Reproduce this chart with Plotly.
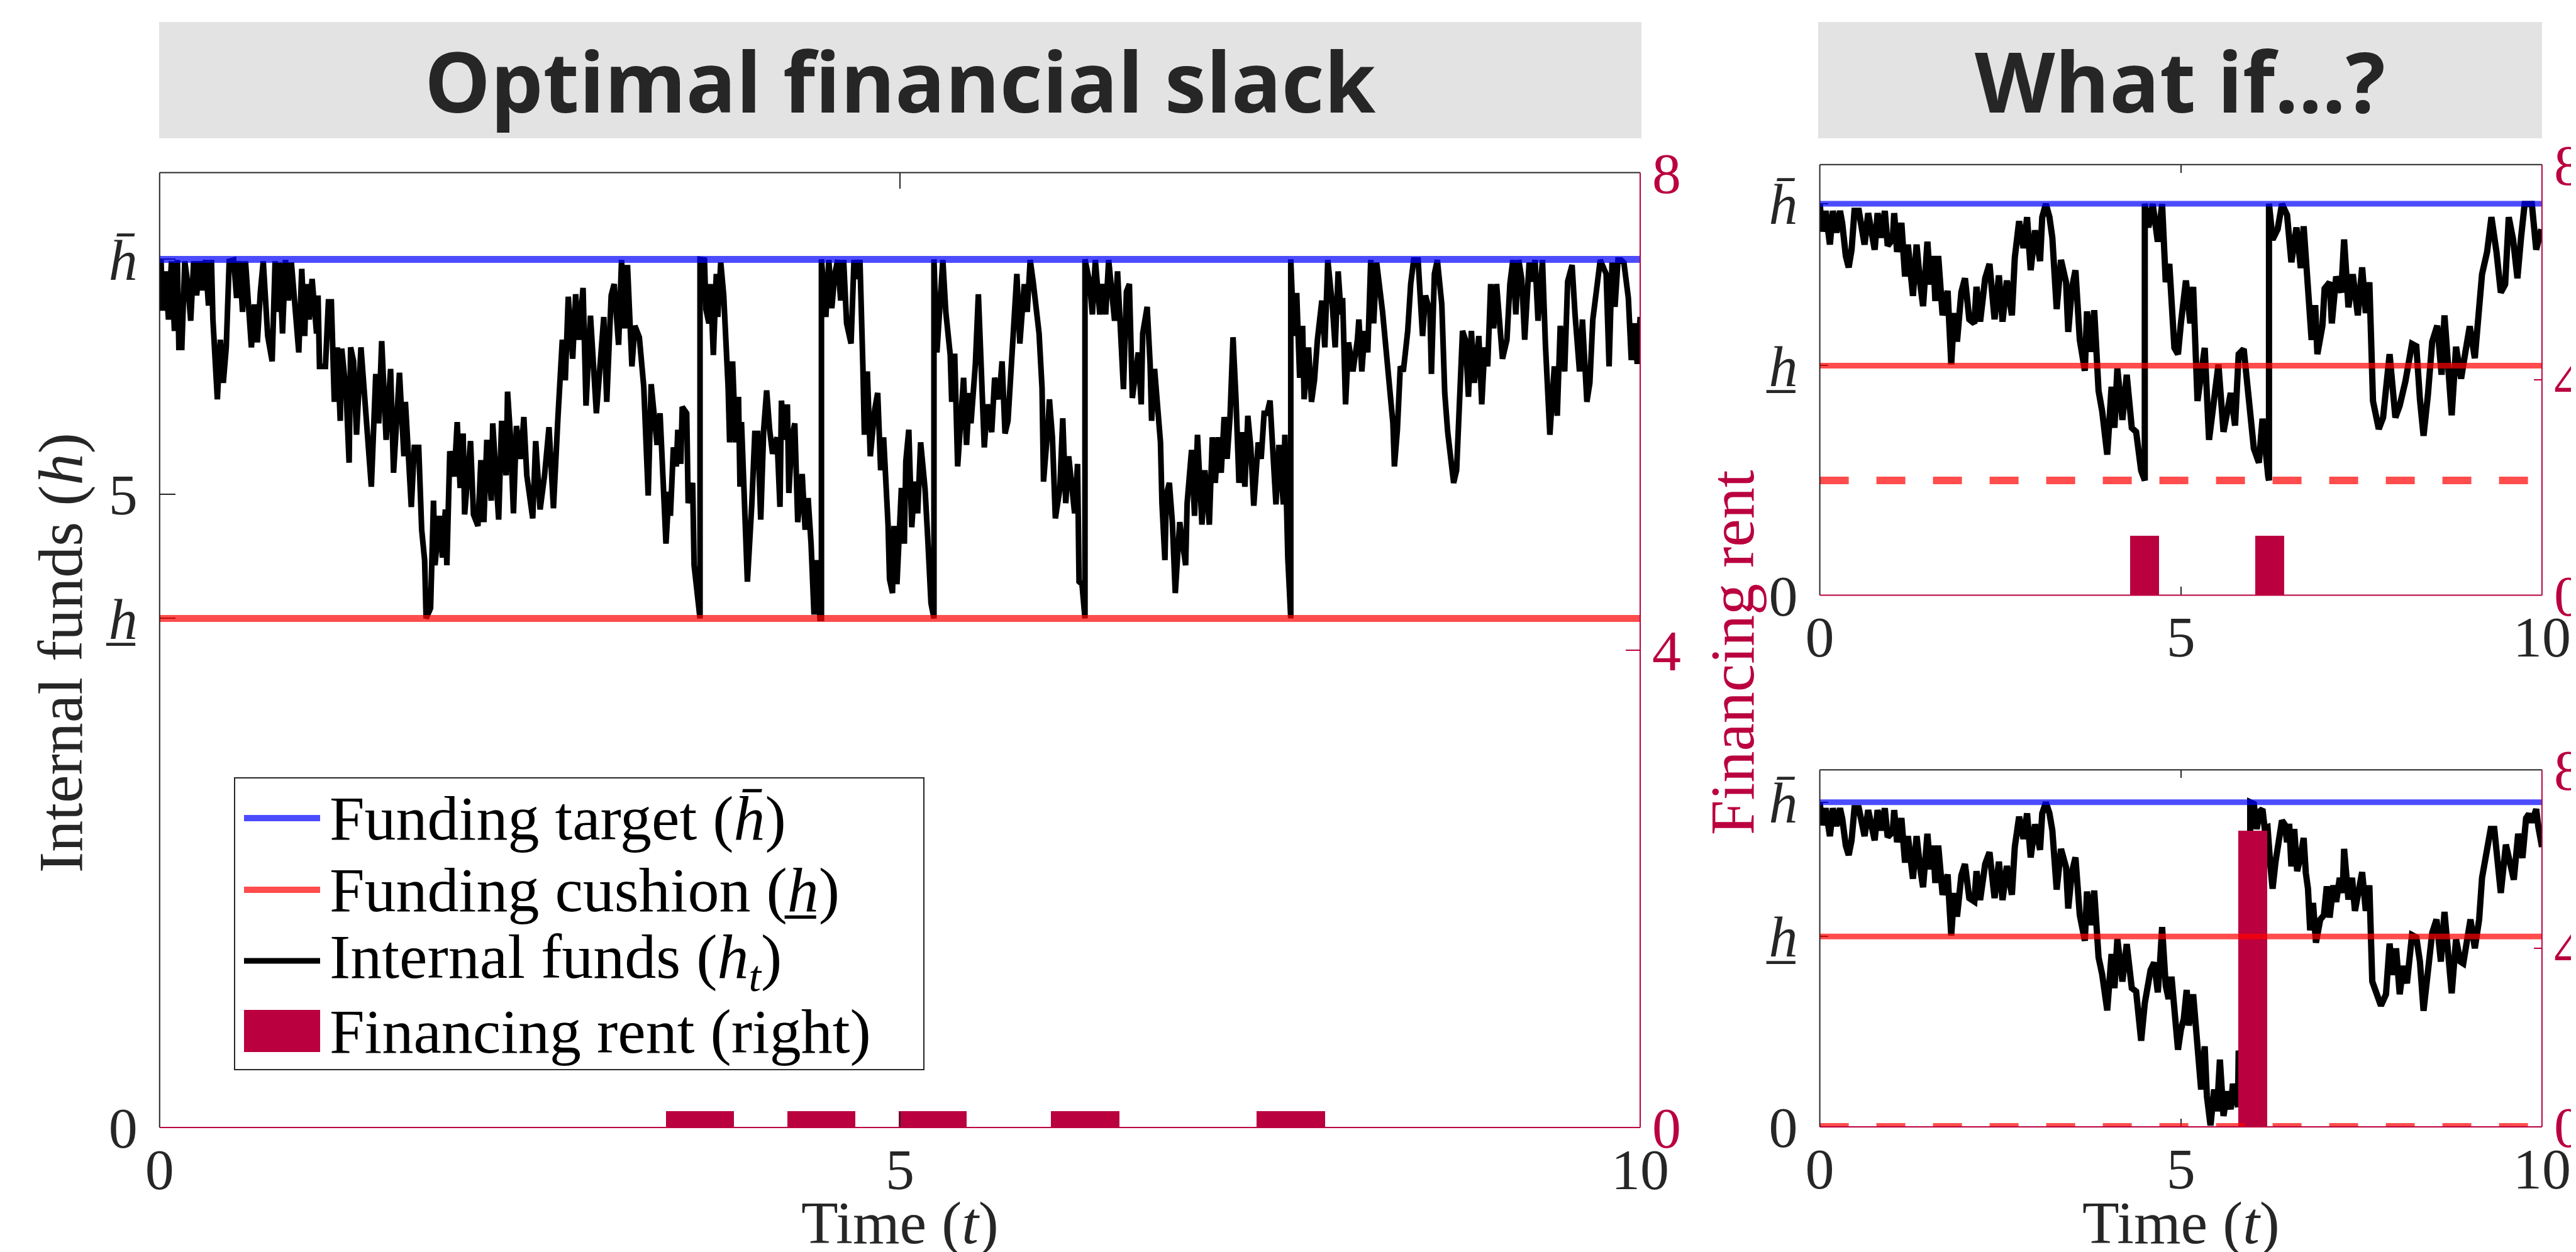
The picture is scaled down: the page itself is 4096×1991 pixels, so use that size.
import plotly.graph_objects as go

# ---------------- data ----------------
HBAR = 6.855          # funding target
HLOW = 4.02           # funding cushion
HLOW_TOP_WHATIF = 2.01  # lower cushion, top "what if" panel
HLOW_BOT_WHATIF = 0.0   # lower cushion, bottom "what if" panel
Y_TOP = 7.54          # left-axis upper limit
RENT_TOP = 8          # right-axis upper limit

x_ticks = [0, 5, 10]
rent_ticks = [0, 4, 8]

# main panel: internal funds path, split at refinancing jumps
main_a_t = [0.00, 0.01, 0.02, 0.04, 0.06, 0.08, 0.10, 0.12, 0.13, 0.15,
            0.17, 0.19, 0.21, 0.23, 0.25, 0.27, 0.29, 0.31, 0.33, 0.35,
            0.36, 0.38, 0.39, 0.41, 0.43, 0.45, 0.47, 0.50, 0.52, 0.54,
            0.56, 0.58, 0.62, 0.64, 0.66, 0.68, 0.70, 0.73, 0.76, 0.78,
            0.80, 0.81, 0.83, 0.85, 0.87, 0.89, 0.91, 0.94, 0.96, 0.98,
            0.99, 1.01, 1.03, 1.06, 1.07, 1.08, 1.12, 1.14, 1.16, 1.18,
            1.20, 1.22, 1.23, 1.26, 1.28, 1.29, 1.31, 1.33, 1.36, 1.39,
            1.43, 1.46, 1.48, 1.50, 1.51, 1.53, 1.56, 1.58, 1.62, 1.65,
            1.66, 1.70, 1.72, 1.75, 1.77, 1.79, 1.80, 1.83, 1.85, 1.86,
            1.89, 1.91, 1.93, 1.94, 1.96, 1.99, 2.01, 2.03, 2.05, 2.06,
            2.10, 2.12, 2.15, 2.17, 2.19, 2.21, 2.24, 2.25, 2.29, 2.31,
            2.34, 2.35, 2.37, 2.39, 2.41, 2.44, 2.46, 2.48, 2.52, 2.54,
            2.57, 2.60, 2.63, 2.66, 2.69, 2.72, 2.74, 2.76, 2.79, 2.81,
            2.83, 2.86, 2.88, 2.91, 2.95, 2.97, 3.00, 3.02, 3.05, 3.07,
            3.10, 3.12, 3.14, 3.16, 3.19, 3.21, 3.24, 3.27, 3.30, 3.32,
            3.36, 3.38, 3.40, 3.42, 3.44, 3.45, 3.47, 3.49, 3.50, 3.52,
            3.53, 3.56, 3.57, 3.60, 3.61, 3.63, 3.65]
main_a_h = [6.83, 6.83, 6.45, 6.76, 6.38, 6.84, 6.29, 6.85, 6.16, 6.16,
            6.84, 6.66, 6.37, 6.84, 6.57, 6.84, 6.61, 6.85, 6.49, 6.85,
            6.38, 5.97, 5.75, 6.22, 5.88, 6.16, 6.84, 6.85, 6.55, 6.84,
            6.44, 6.84, 6.16, 6.50, 6.20, 6.59, 6.84, 6.25, 6.05, 6.84,
            6.44, 6.83, 6.27, 6.85, 6.53, 6.83, 6.53, 6.12, 6.78, 6.25,
            6.66, 6.38, 6.70, 6.27, 6.57, 6.01, 6.01, 6.52, 6.52, 5.73,
            6.16, 5.58, 6.15, 5.80, 5.25, 6.16, 6.05, 5.47, 6.16, 5.69,
            5.06, 5.95, 5.56, 6.21, 5.99, 5.43, 5.99, 5.17, 5.96, 5.30,
            5.73, 4.90, 5.37, 5.37, 4.72, 4.48, 4.02, 4.10, 4.95, 4.44,
            4.83, 4.50, 4.88, 4.44, 5.34, 5.14, 5.57, 5.05, 5.48, 4.84,
            5.42, 4.84, 4.75, 5.27, 4.78, 5.43, 4.95, 5.56, 4.80, 5.58,
            5.15, 5.81, 5.45, 4.85, 5.54, 5.28, 5.61, 5.15, 4.81, 5.42,
            4.88, 5.15, 5.53, 4.89, 5.60, 6.22, 5.90, 6.56, 6.07, 6.58,
            6.22, 6.63, 5.70, 6.41, 5.64, 5.95, 6.40, 5.73, 6.57, 6.66,
            6.18, 6.85, 6.31, 6.81, 6.01, 6.33, 6.24, 5.85, 4.99, 5.87,
            5.39, 5.64, 5.19, 4.61, 5.02, 4.83, 5.37, 5.22, 5.51, 5.24,
            5.69, 5.64, 4.93, 5.09, 4.44, 4.27, 4.02]

main_b_t = [3.65, 3.68, 3.69, 3.71, 3.72, 3.74, 3.76, 3.77, 3.79, 3.81,
            3.84, 3.85, 3.87, 3.89, 3.91, 3.92, 3.93, 3.95, 3.97, 4.00,
            4.02, 4.04, 4.06, 4.08, 4.10, 4.12, 4.14, 4.17, 4.19, 4.20,
            4.22, 4.24, 4.25, 4.27, 4.29, 4.31, 4.34, 4.36, 4.38, 4.40,
            4.42, 4.44, 4.46, 4.47]
main_b_h = [6.855, 6.85, 6.46, 6.35, 6.66, 6.10, 6.74, 6.40, 6.83, 6.57,
            5.84, 5.41, 6.05, 5.41, 5.77, 5.06, 5.57, 4.89, 4.31, 4.93,
            5.48, 5.48, 4.80, 5.51, 5.82, 5.51, 5.32, 5.45, 4.90, 5.74,
            5.43, 5.71, 5.01, 5.45, 5.56, 4.78, 5.16, 4.72, 4.97, 4.61,
            4.05, 4.48, 4.02, 4.02]

main_c_t = [4.47, 4.50, 4.52, 4.54, 4.56, 4.58, 4.60, 4.62, 4.64, 4.67,
            4.69, 4.71, 4.73, 4.75, 4.76, 4.78, 4.80, 4.83, 4.85, 4.87,
            4.89, 4.92, 4.93, 4.95, 4.96, 4.98, 5.01, 5.03, 5.04, 5.06,
            5.08, 5.10, 5.12, 5.14, 5.17, 5.19, 5.21, 5.23]
main_c_h = [6.855, 6.40, 6.85, 6.47, 6.74, 6.85, 6.53, 6.85, 6.35, 6.19,
            6.85, 6.70, 6.85, 6.01, 5.47, 5.97, 5.30, 5.67, 5.80, 5.19,
            5.45, 4.76, 4.33, 4.22, 4.75, 4.29, 5.05, 4.61, 5.26, 5.51,
            4.74, 5.10, 4.85, 5.41, 5.04, 4.61, 4.14, 4.02]

main_d_t = [5.23, 5.25, 5.27, 5.29, 5.31, 5.34, 5.35, 5.37, 5.39, 5.41,
            5.43, 5.45, 5.47, 5.48, 5.51, 5.53, 5.55, 5.57, 5.59, 5.62,
            5.64, 5.67, 5.69, 5.71, 5.73, 5.75, 5.77, 5.79, 5.81, 5.84,
            5.86, 5.88, 5.90, 5.92, 5.94, 5.96, 5.97, 6.00, 6.01, 6.03,
            6.05, 6.08, 6.10, 6.12, 6.14, 6.18, 6.20, 6.21, 6.23, 6.25]
main_d_h = [6.855, 6.12, 6.44, 6.85, 6.44, 6.10, 5.73, 6.11, 5.22, 5.67,
            5.92, 5.39, 5.80, 5.56, 6.03, 6.58, 5.88, 5.37, 5.71, 5.49,
            5.92, 5.75, 6.05, 5.48, 5.58, 5.95, 6.48, 6.74, 6.19, 6.66,
            6.44, 6.85, 6.68, 6.48, 6.27, 5.84, 5.10, 5.54, 5.75, 5.45,
            4.81, 5.04, 5.60, 4.93, 5.30, 4.85, 5.24, 4.31, 4.29, 4.02]

main_e_t = [6.25, 6.28, 6.30, 6.32, 6.35, 6.37, 6.39, 6.41, 6.43, 6.45,
            6.47, 6.49, 6.51, 6.53, 6.55, 6.57, 6.59, 6.61, 6.63, 6.64,
            6.67, 6.69, 6.70, 6.72, 6.76, 6.77, 6.79, 6.80, 6.82, 6.84,
            6.86, 6.88, 6.89, 6.93, 6.94, 6.97, 6.99, 7.01, 7.04, 7.06,
            7.09, 7.11, 7.13, 7.15, 7.17, 7.19, 7.21, 7.23, 7.25, 7.27,
            7.29, 7.31, 7.33, 7.35, 7.37, 7.39, 7.42, 7.44, 7.46, 7.48,
            7.50, 7.52, 7.54, 7.56, 7.59, 7.60, 7.62, 7.64]
main_e_h = [6.855, 6.68, 6.42, 6.85, 6.42, 6.66, 6.42, 6.85, 6.55, 6.37,
            6.76, 6.16, 5.83, 6.60, 6.66, 5.76, 5.95, 6.12, 5.71, 6.27,
            6.48, 6.03, 5.58, 5.99, 5.41, 4.93, 4.48, 5.00, 5.09, 4.78,
            4.22, 4.72, 4.78, 4.44, 4.93, 5.35, 4.83, 5.47, 4.76, 5.19,
            4.76, 5.45, 5.09, 5.45, 5.17, 5.61, 5.28, 5.62, 6.24, 5.75,
            5.09, 5.49, 5.06, 5.62, 5.37, 4.91, 5.41, 5.28, 5.64, 5.64,
            5.74, 5.32, 4.92, 5.39, 4.92, 5.47, 4.50, 4.02]

main_f_t = [7.64, 7.66, 7.68, 7.70, 7.72, 7.73, 7.76, 7.78, 7.80, 7.82,
            7.85, 7.87, 7.89, 7.92, 7.94, 7.96, 7.98, 7.99, 8.01, 8.03,
            8.06, 8.09, 8.10, 8.12, 8.14, 8.16, 8.18, 8.20, 8.22, 8.26,
            8.28, 8.30, 8.33, 8.34, 8.36, 8.38, 8.40, 8.43, 8.45, 8.47,
            8.50, 8.53, 8.55, 8.58, 8.59, 8.61, 8.63, 8.66, 8.68, 8.70,
            8.72, 8.74, 8.76, 8.78, 8.80, 8.82, 8.84, 8.86, 8.88, 8.91,
            8.93, 8.95, 8.97, 8.99, 9.01, 9.03, 9.05, 9.07, 9.10, 9.12,
            9.14, 9.16, 9.18, 9.20, 9.22, 9.25, 9.27, 9.29, 9.31, 9.34,
            9.36, 9.39, 9.42, 9.44, 9.46, 9.49, 9.51, 9.54, 9.56, 9.59,
            9.61, 9.64, 9.66, 9.68, 9.71, 9.73, 9.77, 9.79, 9.81, 9.83,
            9.85, 9.87, 9.89, 9.92, 9.94, 9.96, 9.98, 10.00]
main_f_h = [6.855, 6.25, 6.59, 5.92, 6.33, 5.75, 6.16, 5.73, 5.90, 6.22,
            6.53, 6.16, 6.85, 6.50, 6.16, 6.76, 6.42, 6.55, 5.71, 6.20,
            5.97, 6.22, 6.38, 5.97, 6.29, 6.12, 6.85, 6.35, 6.83, 6.44,
            6.18, 5.88, 5.56, 5.22, 5.51, 6.01, 5.97, 6.29, 6.66, 6.85,
            6.85, 6.25, 6.57, 6.44, 5.95, 6.74, 6.85, 6.50, 5.80, 5.49,
            5.26, 5.09, 5.19, 5.87, 6.29, 6.22, 5.77, 6.29, 5.88, 6.25,
            5.71, 6.16, 6.01, 6.66, 6.31, 6.66, 6.40, 6.07, 6.22, 6.66,
            6.85, 6.42, 6.85, 6.70, 6.22, 6.83, 6.68, 6.85, 6.37, 6.85,
            6.18, 5.47, 6.01, 5.62, 6.33, 5.97, 6.68, 6.81, 6.42, 5.97,
            6.38, 5.73, 5.88, 6.38, 6.66, 6.85, 6.74, 6.01, 6.83, 6.48,
            6.85, 6.85, 6.83, 6.55, 6.06, 6.35, 6.03, 6.40]

main_rent_t = [3.65, 4.47, 5.22, 6.25, 7.64]
main_rent_v = [0.14, 0.14, 0.14, 0.14, 0.14]
MAIN_BAR_W = 0.46

# "What if" panels: common path until t = 4.38
whatif_common_t = [0.00, 0.03, 0.08, 0.14, 0.18, 0.23, 0.28, 0.31, 0.36, 0.40,
                   0.44, 0.48, 0.54, 0.57, 0.62, 0.67, 0.72, 0.76, 0.80, 0.85,
                   0.90, 0.94, 1.01, 1.03, 1.07, 1.13, 1.18, 1.22, 1.29, 1.34,
                   1.39, 1.43, 1.49, 1.53, 1.57, 1.60, 1.64, 1.70, 1.77, 1.82,
                   1.86, 1.90, 1.96, 2.01, 2.07, 2.14, 2.17, 2.22, 2.29, 2.35,
                   2.42, 2.48, 2.53, 2.59, 2.66, 2.70, 2.76, 2.82, 2.87, 2.92,
                   2.98, 3.05, 3.08, 3.13, 3.18, 3.22, 3.28, 3.34, 3.41, 3.44,
                   3.49, 3.54, 3.60, 3.67, 3.70, 3.75, 3.80, 3.86, 3.91, 3.98,
                   4.04, 4.08, 4.12, 4.19, 4.25, 4.32, 4.38]
whatif_common_h = [6.85, 6.37, 6.73, 6.14, 6.73, 6.35, 6.73, 6.52, 5.94, 5.74,
                   6.05, 6.73, 6.73, 6.44, 6.14, 6.69, 6.23, 6.05, 6.69, 6.26,
                   6.73, 6.12, 6.23, 6.69, 6.01, 6.52, 5.58, 6.14, 5.24, 6.14,
                   5.46, 5.06, 6.19, 5.44, 5.94, 5.15, 5.94, 4.90, 5.33, 4.04,
                   4.94, 4.44, 5.31, 5.55, 4.83, 4.76, 5.40, 4.79, 5.55, 5.80,
                   4.83, 5.60, 4.79, 5.51, 4.90, 5.91, 6.55, 6.08, 6.62, 5.69,
                   6.39, 5.85, 6.62, 6.85, 6.62, 6.26, 5.01, 5.87, 5.48, 4.61,
                   5.37, 5.69, 4.47, 3.93, 4.97, 4.26, 4.99, 3.58, 3.22, 2.46,
                   3.65, 2.93, 3.97, 3.07, 3.86, 2.93, 2.86]

# top "what if": cushion lowered to 2.01, refinancing at it
whatif_top_t = [4.45, 4.50, 4.50, 4.55, 4.61, 4.68, 4.74, 4.79, 4.84, 4.91,
                4.96, 5.00, 5.07, 5.13, 5.17, 5.23, 5.33, 5.39, 5.46, 5.52,
                5.59, 5.69, 5.75, 5.80, 5.87, 5.95, 6.01, 6.08, 6.13, 6.21,
                6.22, 6.22, 6.27, 6.34, 6.40, 6.47, 6.53, 6.60, 6.66, 6.70,
                6.76, 6.81, 6.86, 6.89, 6.96, 6.99, 7.06, 7.09, 7.15, 7.22,
                7.26, 7.32, 7.38, 7.45, 7.51, 7.56, 7.61, 7.66, 7.74, 7.80,
                7.89, 7.97, 8.03, 8.11, 8.20, 8.26, 8.31, 8.36, 8.42, 8.48,
                8.55, 8.61, 8.65, 8.72, 8.75, 8.81, 8.88, 8.94, 9.00, 9.07,
                9.13, 9.17, 9.24, 9.30, 9.37, 9.43, 9.49, 9.54, 9.60, 9.66,
                9.71, 9.76, 9.86, 9.92, 9.99]
whatif_top_h = [2.18, 2.01, 6.855, 6.44, 6.85, 6.19, 6.85, 5.48, 5.80, 4.33,
                4.22, 4.76, 5.51, 4.76, 5.40, 3.40, 4.33, 2.72, 3.40, 4.04,
                2.86, 3.54, 2.97, 4.22, 4.31, 3.32, 2.57, 2.32, 3.09, 2.07,
                2.01, 6.855, 6.23, 6.41, 6.85, 6.66, 5.83, 6.44, 5.73, 6.46,
                5.22, 4.47, 5.08, 4.22, 4.72, 5.37, 5.48, 4.76, 5.58, 5.30,
                6.23, 5.04, 5.62, 4.90, 5.74, 4.94, 5.48, 3.40, 2.91, 3.11,
                4.22, 3.11, 3.32, 3.75, 4.40, 4.36, 3.43, 2.79, 3.50, 4.44,
                4.72, 3.86, 4.90, 3.50, 3.15, 4.35, 3.79, 4.26, 4.71, 4.15,
                5.06, 5.62, 6.01, 6.62, 6.01, 5.30, 5.44, 6.62, 6.23, 5.55,
                6.26, 6.85, 6.85, 6.05, 6.41]
whatif_top_rent_t = [4.49, 6.23]
whatif_top_rent_v = [1.11, 1.11]

# bottom "what if": cushion lowered to 0, single large refinancing
whatif_bot_t = [4.42, 4.45, 4.50, 4.55, 4.58, 4.63, 4.68, 4.71, 4.74, 4.79,
                4.83, 4.87, 4.91, 4.96, 5.00, 5.04, 5.08, 5.11, 5.17, 5.23,
                5.28, 5.33, 5.36, 5.41, 5.46, 5.50, 5.54, 5.59, 5.64, 5.69,
                5.72, 5.79, 5.80, 5.96, 5.96, 6.01, 6.05, 6.09, 6.13, 6.16,
                6.20, 6.24, 6.27, 6.31, 6.34, 6.37, 6.40, 6.44, 6.47, 6.50,
                6.53, 6.57, 6.61, 6.66, 6.70, 6.73, 6.76, 6.79, 6.83, 6.87,
                6.93, 6.98, 7.02, 7.06, 7.11, 7.15, 7.20, 7.24, 7.26, 7.32,
                7.37, 7.41, 7.46, 7.51, 7.56, 7.61, 7.65, 7.71, 7.77, 7.84,
                7.89, 7.93, 7.98, 8.03, 8.08, 8.13, 8.20, 8.26, 8.31, 8.36,
                8.41, 8.48, 8.54, 8.60, 8.65, 8.70, 8.75, 8.81, 8.87, 8.91,
                8.96, 9.01, 9.07, 9.13, 9.17, 9.24, 9.29, 9.34, 9.39, 9.43,
                9.50, 9.55, 9.61, 9.67, 9.73, 9.78, 9.82, 9.86, 9.92, 9.95,
                10.00]
whatif_bot_h = [2.24, 1.82, 2.61, 2.98, 3.31, 3.47, 2.84, 3.45, 4.22, 2.98,
                2.70, 3.17, 2.56, 1.63, 2.05, 2.28, 2.89, 2.14, 2.80, 1.82,
                0.79, 1.70, 0.65, 0.03, 0.79, 0.33, 1.42, 0.23, 0.75, 0.37,
                0.91, 0.42, 1.61, 0.00, 6.855, 6.82, 6.29, 6.66, 6.71, 6.31,
                6.33, 5.50, 5.03, 5.59, 5.96, 6.19, 6.47, 6.38, 6.01, 6.40,
                5.50, 6.29, 5.40, 5.73, 6.10, 5.36, 5.03, 4.15, 4.73, 3.89,
                4.38, 4.47, 5.08, 4.42, 5.10, 4.75, 5.26, 4.94, 5.87, 4.80,
                5.26, 4.56, 5.08, 5.38, 4.56, 5.10, 3.07, 2.80, 2.56, 2.80,
                3.87, 3.21, 3.77, 2.80, 3.40, 3.03, 4.05, 4.00, 3.49, 2.45,
                3.21, 4.10, 4.38, 3.49, 4.54, 3.45, 2.82, 3.96, 3.49, 3.45,
                3.96, 4.38, 3.77, 4.38, 5.26, 5.78, 6.29, 6.29, 5.50, 4.94,
                5.96, 5.54, 5.22, 6.19, 5.68, 6.52, 6.61, 6.43, 6.71, 6.33,
                5.91]
whatif_bot_rent_t = [5.99]
whatif_bot_rent_v = [6.63]
WHATIF_BAR_W = 0.40

main_segments = [(main_a_t, main_a_h), (main_b_t, main_b_h), (main_c_t, main_c_h),
                 (main_d_t, main_d_h), (main_e_t, main_e_h), (main_f_t, main_f_h)]
for a, b in main_segments + [(whatif_common_t, whatif_common_h), (whatif_top_t, whatif_top_h),
                             (whatif_bot_t, whatif_bot_h)]:
    assert len(a) == len(b), (len(a), len(b))

# each segment after the first starts with the jump back to the target (same t)
main_t, main_h = [], []
for seg_t, seg_h in main_segments:
    main_t += seg_t
    main_h += seg_h

top_t = whatif_common_t + whatif_top_t
top_h = whatif_common_h + whatif_top_h
bot_t = whatif_common_t + whatif_bot_t
bot_h = whatif_common_h + whatif_bot_h

# ---------------- style ----------------
W, H = 4096, 1991
CRIMSON = "rgb(186,0,62)"
DARK = "#262626"
BLUE_L = "rgba(0,0,255,0.7)"
RED_L = "rgba(255,0,0,0.7)"
SERIF = "Liberation Serif"
FS = 92


def px(v):
    return v / W


def py(v):
    return 1 - v / H


MAIN_X = [px(245.8), px(2600.0)]
MAIN_Y = [py(1785.0), py(266.5)]
SIDE_X = [px(2885.6), px(4033.9)]
TOP_Y = [py(938.4), py(253.8)]
BOT_Y = [py(1784.0), py(1216.2)]

fig = go.Figure()

fig.add_trace(go.Scatter(x=main_t, y=main_h, mode="lines", line=dict(color="black", width=9),
                         xaxis="x", yaxis="y", hoverinfo="skip", showlegend=False))
fig.add_trace(go.Bar(x=main_rent_t, y=main_rent_v, width=MAIN_BAR_W, marker=dict(color=CRIMSON, line=dict(width=0)),
                     xaxis="x", yaxis="y2", hoverinfo="skip", showlegend=False))

fig.add_trace(go.Scatter(x=top_t, y=top_h, mode="lines", line=dict(color="black", width=10),
                         xaxis="x2", yaxis="y3", hoverinfo="skip", showlegend=False))
fig.add_trace(go.Bar(x=whatif_top_rent_t, y=whatif_top_rent_v, width=WHATIF_BAR_W,
                     marker=dict(color=CRIMSON, line=dict(width=0)),
                     xaxis="x2", yaxis="y4", hoverinfo="skip", showlegend=False))

fig.add_trace(go.Scatter(x=bot_t, y=bot_h, mode="lines", line=dict(color="black", width=10),
                         xaxis="x3", yaxis="y5", hoverinfo="skip", showlegend=False))
fig.add_trace(go.Bar(x=whatif_bot_rent_t, y=whatif_bot_rent_v, width=WHATIF_BAR_W,
                     marker=dict(color=CRIMSON, line=dict(width=0)),
                     xaxis="x3", yaxis="y6", hoverinfo="skip", showlegend=False))

tickfont = dict(family=SERIF, size=FS, color=DARK)
rentfont = dict(family=SERIF, size=FS, color=CRIMSON)
HB = "<i>h\u0304</i>"
HL = "<i>h\u0332</i>"


def xax(domain, anchor, tl):
    return dict(domain=domain, anchor=anchor, range=[0, 10], tickvals=x_ticks, ticks="inside",
                ticklen=tl, tickwidth=2, tickcolor=DARK, mirror="ticks", showline=False,
                showgrid=False, zeroline=False, tickfont=tickfont, ticklabelstandoff=5,
                automargin=False, fixedrange=True)


def yax(domain, anchor, tl, vals, texts):
    return dict(domain=domain, anchor=anchor, range=[0, Y_TOP], tickvals=vals, ticktext=texts,
                ticks="inside", ticklen=tl, tickwidth=2, tickcolor=DARK, showline=False, showgrid=False,
                zeroline=False, tickfont=tickfont, ticklabelstandoff=34, automargin=False, fixedrange=True)


def rax(over, anchor, tl):
    return dict(overlaying=over, anchor=anchor, side="right", range=[0, RENT_TOP], tickvals=rent_ticks,
                ticks="inside", ticklen=tl, tickwidth=2, tickcolor=CRIMSON, showline=False, showgrid=False,
                zeroline=False, tickfont=rentfont, ticklabelstandoff=18, automargin=False, fixedrange=True)


fig.update_layout(
    width=W, height=H, autosize=False, margin=dict(l=0, r=0, t=0, b=0, pad=0),
    paper_bgcolor="white", plot_bgcolor="white", showlegend=False, bargap=0,
    xaxis=xax(MAIN_X, "y", 25),
    yaxis=yax(MAIN_Y, "x", 25, [0, HLOW, 5, HBAR], ["0", HL, "5", HB]),
    yaxis2=rax("y", "x", 23),
    xaxis2=xax(SIDE_X, "y3", 13),
    yaxis3=yax(TOP_Y, "x2", 13, [0, HLOW, HBAR], ["0", HL, HB]),
    yaxis4=rax("y3", "x2", 13),
    xaxis3=xax(SIDE_X, "y5", 13),
    yaxis5=yax(BOT_Y, "x3", 13, [0, HLOW, HBAR], ["0", HL, HB]),
    yaxis6=rax("y5", "x3", 13),
)

shapes = []
# reference lines
for xr, yr, low2, lw in [("x", "y", None, 11), ("x2", "y3", HLOW_TOP_WHATIF, 9), ("x3", "y5", HLOW_BOT_WHATIF, 9)]:
    shapes.append(dict(type="line", xref=xr, yref=yr, x0=0, x1=10, y0=HBAR, y1=HBAR,
                       line=dict(color=BLUE_L, width=lw), layer="above"))
    shapes.append(dict(type="line", xref=xr, yref=yr, x0=0, x1=10, y0=HLOW, y1=HLOW,
                       line=dict(color=RED_L, width=lw), layer="above"))
    if low2 is not None:
        shapes.append(dict(type="line", xref=xr, yref=yr, x0=0, x1=10, y0=low2, y1=low2,
                           line=dict(color=RED_L, width=12, dash="46px,44px"), layer="above"))
# axes frames
for xr, yr in [("x", "y"), ("x2", "y3"), ("x3", "y5")]:
    xd, yd = xr + " domain", yr + " domain"
    shapes.append(dict(type="line", xref=xd, yref=yd, x0=0, x1=1, y0=1, y1=1, line=dict(color=DARK, width=2), layer="above"))
    shapes.append(dict(type="line", xref=xd, yref=yd, x0=0, x1=0, y0=0, y1=1, line=dict(color=DARK, width=2), layer="above"))
    shapes.append(dict(type="line", xref=xd, yref=yd, x0=0, x1=1, y0=0, y1=0, line=dict(color=CRIMSON, width=2), layer="above"))
    shapes.append(dict(type="line", xref=xd, yref=yd, x0=1, x1=1, y0=0, y1=1, line=dict(color=CRIMSON, width=2), layer="above"))
# title boxes
shapes.append(dict(type="rect", xref="paper", yref="paper", x0=px(245), x1=px(2602), y0=py(212), y1=py(27),
                   fillcolor="#e3e3e3", line=dict(width=0), layer="below"))
shapes.append(dict(type="rect", xref="paper", yref="paper", x0=px(2883), x1=px(4034), y0=py(212), y1=py(27),
                   fillcolor="#e3e3e3", line=dict(width=0), layer="below"))
# legend box and keys
shapes.append(dict(type="rect", xref="paper", yref="paper", x0=px(365), x1=px(1461), y0=py(1693), y1=py(1229),
                   fillcolor="white", line=dict(color=DARK, width=2), layer="above"))
LEG_ROWS = [1293, 1407, 1520, 1632]
shapes.append(dict(type="line", xref="paper", yref="paper", x0=px(380), x1=px(501), y0=py(LEG_ROWS[0]), y1=py(LEG_ROWS[0]),
                   line=dict(color=BLUE_L, width=10), layer="above"))
shapes.append(dict(type="line", xref="paper", yref="paper", x0=px(380), x1=px(501), y0=py(LEG_ROWS[1]), y1=py(LEG_ROWS[1]),
                   line=dict(color=RED_L, width=10), layer="above"))
shapes.append(dict(type="line", xref="paper", yref="paper", x0=px(380), x1=px(501), y0=py(LEG_ROWS[2]), y1=py(LEG_ROWS[2]),
                   line=dict(color="black", width=9), layer="above"))
shapes.append(dict(type="rect", xref="paper", yref="paper", x0=px(380), x1=px(501), y0=py(1665), y1=py(1598),
                   fillcolor=CRIMSON, line=dict(width=0), layer="above"))
fig.update_layout(shapes=shapes)

ann = []
titlefont = dict(family="Open Sans", size=132, color=DARK, weight=700)
ann.append(dict(text="Optimal financial slack", x=px(1423.5), y=py(120), xref="paper", yref="paper",
                xanchor="center", yanchor="middle", showarrow=False, font=titlefont))
ann.append(dict(text="What if...?", x=px(3458.5), y=py(120), xref="paper", yref="paper",
                xanchor="center", yanchor="middle", showarrow=False, font=titlefont))
ann.append(dict(text="Internal funds (<i>h</i>)", x=px(88), y=py(1030), xref="paper", yref="paper",
                textangle=-90, xanchor="center", yanchor="middle", showarrow=False,
                font=dict(family=SERIF, size=100, color=DARK)))
ann.append(dict(text="Financing rent", x=px(2746), y=py(1030), xref="paper", yref="paper",
                textangle=-90, xanchor="center", yanchor="middle", showarrow=False,
                font=dict(family=SERIF, size=100, color=CRIMSON)))
timefont = dict(family=SERIF, size=96, color=DARK)
ann.append(dict(text="Time (<i>t</i>)", x=px(1423), y=py(1936), xref="paper", yref="paper",
                xanchor="center", yanchor="middle", showarrow=False, font=timefont))
ann.append(dict(text="Time (<i>t</i>)", x=px(3459.7), y=py(1936), xref="paper", yref="paper",
                xanchor="center", yanchor="middle", showarrow=False, font=timefont))
legend_labels = ["Funding target (" + HB + ")", "Funding cushion (" + HL + ")",
                 "Internal funds (<i>h</i><sub><i>t</i></sub>)", "Financing rent (right)"]
for lab, row in zip(legend_labels, LEG_ROWS):
    ann.append(dict(text=lab, x=px(514), y=py(row), xref="paper", yref="paper", xanchor="left",
                    yanchor="middle", showarrow=False, font=dict(family=SERIF, size=100, color="black")))
fig.update_layout(annotations=ann)

fig.write_html("out.html")
